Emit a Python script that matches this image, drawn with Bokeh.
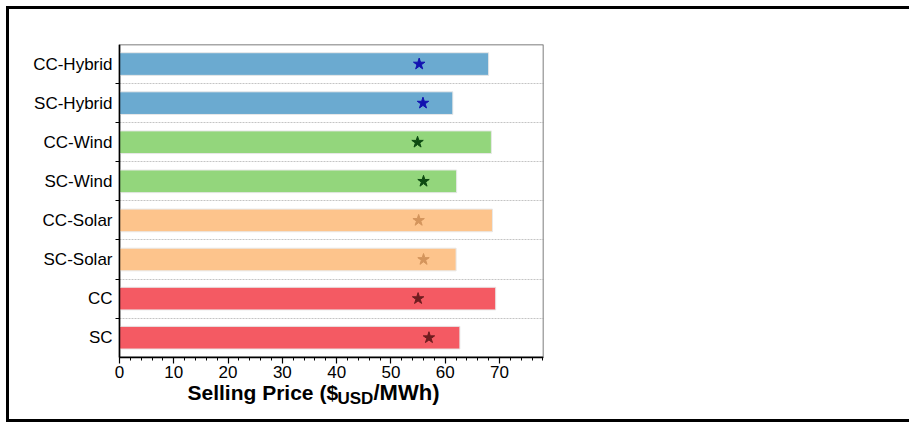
from bokeh.plotting import figure
from bokeh.models import (Range1d, FixedTicker, SingleIntervalTicker, Label,
                          ColumnDataSource, BoxAnnotation)
from bokeh.embed import file_html
from bokeh.resources import INLINE

# Scenario names, top to bottom
categories = ["CC-Hybrid", "SC-Hybrid", "CC-Wind", "SC-Wind",
              "CC-Solar", "SC-Solar", "CC", "SC"]
# Bar length: selling price ($USD/MWh)
selling_price = [68.0, 61.4, 68.5, 62.1, 68.7, 62.0, 69.3, 62.7]
# Star marker: reference price ($USD/MWh)
star_price = [55.2, 55.9, 54.9, 56.0, 55.1, 56.0, 55.0, 57.0]

bar_colors = ["#6baad0", "#6baad0", "#93d67c", "#93d67c",
              "#fdc48c", "#fdc48c", "#f45a63", "#f45a63"]
star_colors = ["#1212b0", "#1212b0", "#0d4a12", "#0d4a12",
               "#d4955c", "#d4955c", "#6e1c1f", "#6e1c1f"]

x_max = 78.1
x_ticks_step = 10

n = len(categories)
pos = list(range(n))
src = ColumnDataSource(dict(y=pos, price=selling_price, star=star_price,
                            bar_color=bar_colors, star_color=star_colors))

# The frame is larger than the bar box: both axes are pinned to the box
# edges so their labels and the axis title are drawn inside the frame.
px_per_unit = 424 / x_max
x_pad = 107 / px_per_unit
y_pad = 1.49
p = figure(frame_width=531, frame_height=371, output_backend="svg",
           toolbar_location=None,
           x_range=Range1d(-x_pad, x_max), y_range=Range1d(n - 0.5 + y_pad, -0.5),
           min_border_left=3, min_border_right=366,
           min_border_top=35, min_border_bottom=4)
p.styles = {"margin-left": "6px", "margin-top": "6px",
            "border-left": "3px solid black", "border-top": "3px solid black",
            "border-bottom": "3px solid black"}

p.background_fill_color = "white"
p.border_fill_color = "white"
p.outline_line_color = None

# box around the bars
p.add_layout(BoxAnnotation(left=0, right=x_max, top=-0.5, bottom=n - 0.5,
                           fill_alpha=0, line_color="#505050", line_alpha=1,
                           line_width=1.5, level="underlay"))

p.hbar(y="y", right="price", left=0, height=0.58, source=src,
       fill_color="bar_color", line_color="#e8e8e8", line_width=1)
p.scatter(x="star", y="y", source=src, marker="star", size=12,
          fill_color="star_color", line_color="star_color")

# y axis: names at bar centres, small ticks at the boundaries
yt = FixedTicker(ticks=pos, minor_ticks=[i + 0.5 for i in pos[:-1]])
p.yaxis.fixed_location = 0
p.yaxis.ticker = yt
p.ygrid.ticker = yt
p.yaxis.bounds = (-0.5, n - 0.5)
p.yaxis.major_label_overrides = {i: c for i, c in zip(pos, categories)}
p.yaxis.major_tick_out = 0
p.yaxis.major_tick_in = 0
p.yaxis.minor_tick_out = 4
p.yaxis.minor_tick_in = 0
p.yaxis.major_label_standoff = 3
p.yaxis.major_label_text_font = "Liberation Sans"
p.yaxis.major_label_text_font_size = "17px"
p.yaxis.major_label_text_color = "black"
p.yaxis.axis_line_color = "black"
p.yaxis.axis_line_width = 1.5
p.ygrid.grid_line_color = None
p.ygrid.cross_bounds = (0, x_max)
p.ygrid.minor_grid_line_color = "#c4c4c4"
p.ygrid.minor_grid_line_dash = "2 1"
p.ygrid.minor_grid_line_width = 1

# x axis pinned to the bottom of the box
p.xaxis.fixed_location = n - 0.5
p.xaxis.bounds = (0, x_max)
p.xaxis.ticker = SingleIntervalTicker(interval=x_ticks_step, num_minor_ticks=5)
p.xaxis.major_tick_out = 6
p.xaxis.major_tick_in = 0
p.xaxis.minor_tick_out = 3
p.xaxis.minor_tick_in = 0
p.xaxis.major_label_standoff = 3
p.xaxis.major_label_text_font = "Liberation Sans"
p.xaxis.major_label_text_font_size = "17px"
p.xaxis.major_label_text_color = "black"
p.xaxis.axis_line_color = "black"
p.xaxis.axis_line_width = 1.5
p.xaxis.major_tick_line_width = 1.2
p.xgrid.grid_line_color = None

# axis title with subscripted currency
font = "Liberation Sans"
p.add_layout(Label(x=175, y=23, x_units="screen", y_units="screen",
                   text="Selling Price ($", text_font=font, text_font_style="bold",
                   text_font_size="21px", text_color="black",
                   text_baseline="alphabetic"))
p.add_layout(Label(x=325, y=17, x_units="screen", y_units="screen",
                   text="USD", text_font=font, text_font_style="bold",
                   text_font_size="17px", text_color="black",
                   text_baseline="alphabetic"))
p.add_layout(Label(x=361, y=23, x_units="screen", y_units="screen",
                   text="/MWh)", text_font=font, text_font_style="bold",
                   text_font_size="22px", text_color="black",
                   text_baseline="alphabetic"))

open("out.html", "w").write(file_html(p, INLINE))
